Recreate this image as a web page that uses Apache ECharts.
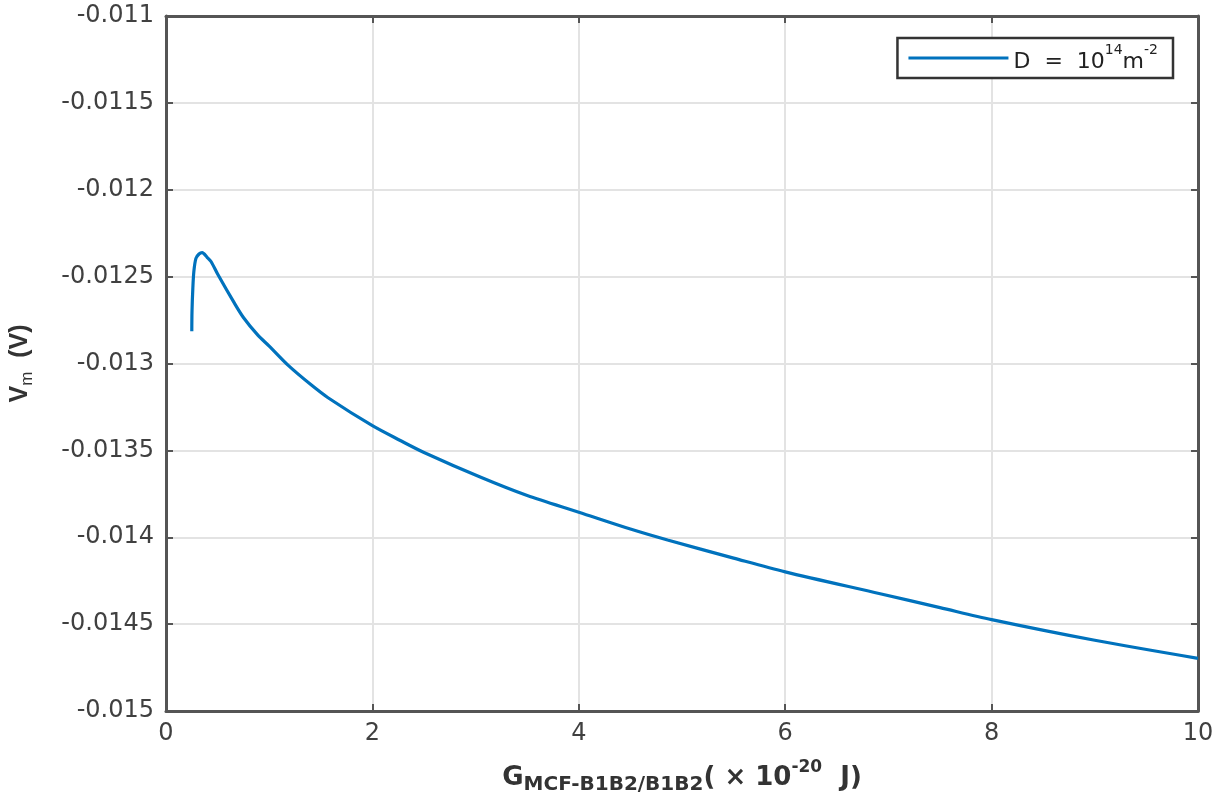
<!DOCTYPE html>
<html>
<head>
<meta charset="utf-8">
<script src="https://cdn.jsdelivr.net/npm/echarts@6/dist/echarts.min.js"></script>
<style>html,body{margin:0;padding:0;background:#fff;}#c{width:1224px;height:800px;}</style>
</head>
<body>
<div id="c"></div>
<script>
// Data
const xValues = [0.25, 0.252, 0.26, 0.27, 0.29, 0.32, 0.35, 0.40, 0.436, 0.5, 0.66, 0.75, 0.89, 1.0, 1.19, 1.4, 1.57, 2.0, 2.27, 2.5, 3.05, 3.5, 4.0, 4.5, 4.86, 5.5, 6.0, 6.92, 7.5, 8.0, 9.0, 10.0];
const vmValues = [-0.012814, -0.0127, -0.012568, -0.01247, -0.012395, -0.01237, -0.012362, -0.01239, -0.012413, -0.012485, -0.01265, -0.012735, -0.012837, -0.0129, -0.013014, -0.01312, -0.013197, -0.013358, -0.013443, -0.013512, -0.013655, -0.01376, -0.013856, -0.013953, -0.014016, -0.01412, -0.014199, -0.014325, -0.014405, -0.014474, -0.014593, -0.014697];
const xTicks = {min: 0, max: 10, interval: 2};
const yTicks = {min: -0.015, max: -0.011, interval: 0.0005};
const seriesName = 'D = 10^14 m^-2';

const chart = echarts.init(document.getElementById('c'));
const axisColor = '#555555';
const gridColor = '#e3e3e3';
const WIDE = '"DejaVu Sans", Verdana, sans-serif';
const NARROW = '"Liberation Sans", Arial, sans-serif';
const lab = {color: '#404040', fontSize: 24, fontFamily: WIDE};
const fmtY = v => parseFloat(Number(v).toPrecision(6)).toString();

chart.setOption({
  animation: false,
  backgroundColor: '#ffffff',
  grid: {left: 165, right: 26, top: 16, bottom: 85, containLabel: false},
  legend: {
    right: 51, top: 38,
    padding: [5, 15, 5, 11],
    borderColor: '#333', borderWidth: 2.5, borderRadius: 0,
    backgroundColor: '#fff',
    icon: 'rect', itemWidth: 100, itemHeight: 3, itemGap: 12,
    formatter: () => '{n|D  =  10}{s|14}{n|m}{s|-2}',
    textStyle: {
      rich: {
        n: {fontSize: 22, color: '#222', fontFamily: WIDE, verticalAlign: 'bottom', lineHeight: 30},
        s: {fontSize: 14, color: '#222', fontFamily: WIDE, verticalAlign: 'top', lineHeight: 30, padding: [0, 0, 10, 0]}
      }
    },
    data: [seriesName]
  },
  xAxis: [{
    type: 'value', min: xTicks.min, max: xTicks.max, interval: xTicks.interval,
    position: 'bottom',
    axisLine: {show: true, onZero: false, lineStyle: {color: axisColor, width: 3}},
    axisTick: {show: true, inside: true, length: 7, lineStyle: {color: axisColor, width: 2}},
    axisLabel: Object.assign({margin: 11}, lab),
    splitLine: {show: true, lineStyle: {color: gridColor, width: 2}},
    name: '{b|G}{bs|MCF-B1B2/B1B2}{b|( × 10}{bt|-20}{b|  J)}',
    nameLocation: 'middle', nameGap: 48,
    nameTextStyle: {
      rich: {
        b: {fontSize: 26, fontWeight: 'bold', color: '#333', fontFamily: WIDE, verticalAlign: 'bottom', lineHeight: 32},
        bs: {fontSize: 20, fontWeight: 'bold', color: '#333', fontFamily: WIDE, verticalAlign: 'bottom', lineHeight: 32, padding: [0, 0, -4, 0]},
        bt: {fontSize: 17, fontWeight: 'bold', color: '#333', fontFamily: WIDE, verticalAlign: 'top', lineHeight: 32, padding: [0, 0, 13, 0]}
      }
    }
  }, {
    type: 'value', min: xTicks.min, max: xTicks.max, interval: xTicks.interval,
    position: 'top',
    axisLine: {show: true, onZero: false, lineStyle: {color: axisColor, width: 3}},
    axisTick: {show: true, inside: true, length: 7, lineStyle: {color: axisColor, width: 2}},
    axisLabel: {show: false}, splitLine: {show: false}
  }],
  yAxis: [{
    type: 'value', min: yTicks.min, max: yTicks.max, interval: yTicks.interval,
    position: 'left',
    axisLine: {show: true, onZero: false, lineStyle: {color: axisColor, width: 3}},
    axisTick: {show: true, inside: true, length: 7, lineStyle: {color: axisColor, width: 2}},
    axisLabel: Object.assign({margin: 12, formatter: fmtY}, lab),
    splitLine: {show: true, lineStyle: {color: gridColor, width: 2}},
    name: '{b|V}{bs|m}{b|  (V)}',
    nameLocation: 'middle', nameGap: 133, nameRotate: 90,
    nameTextStyle: {
      rich: {
        b: {fontSize: 25, fontWeight: 'bold', color: '#333', fontFamily: NARROW, verticalAlign: 'bottom', lineHeight: 32},
        bs: {fontSize: 17, color: '#333', fontFamily: NARROW, verticalAlign: 'bottom', lineHeight: 32, padding: [0, 0, -3, 0]}
      }
    }
  }, {
    type: 'value', min: yTicks.min, max: yTicks.max, interval: yTicks.interval,
    position: 'right',
    axisLine: {show: true, onZero: false, lineStyle: {color: axisColor, width: 3}},
    axisTick: {show: true, inside: true, length: 7, lineStyle: {color: axisColor, width: 2}},
    axisLabel: {show: false}, splitLine: {show: false}
  }],
  series: [{
    name: seriesName,
    type: 'line',
    xAxisIndex: 0, yAxisIndex: 0,
    data: xValues.map((x, i) => [x, vmValues[i]]),
    showSymbol: false,
    smooth: 0.3,
    lineStyle: {color: '#0072BD', width: 3.2},
    itemStyle: {color: '#0072BD'},
    z: 5
  }]
});
</script>
</body>
</html>
